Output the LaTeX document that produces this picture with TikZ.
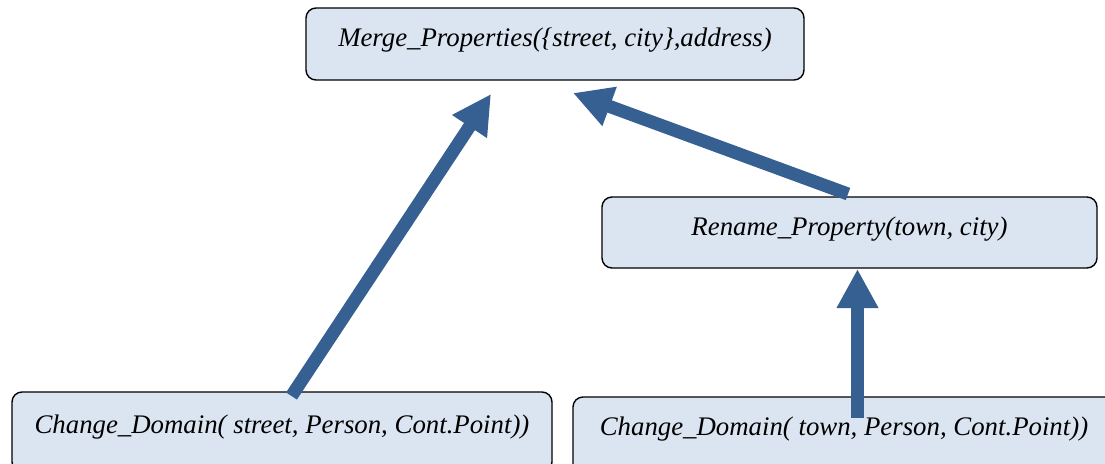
\documentclass[tikz,border=0pt]{standalone}
\usepackage{fontspec}
\setmainfont{Liberation Serif}
\usetikzlibrary{arrows.meta}
\definecolor{boxfill}{HTML}{DBE5F1}
\definecolor{flow}{HTML}{366092}
\begin{document}
\begin{tikzpicture}[x=1pt,y=-1pt,
  opbox/.style={draw=black, line width=1.4pt, fill=boxfill, rounded corners=10pt,
    inner sep=0pt, font=\fontsize{26.8}{30}\selectfont\itshape},
  flowarrow/.style={draw=flow, line width=13pt,
    -{Triangle[length=39pt,width=39pt]}}]
  \useasboundingbox (0,0) rectangle (1105,463);
  \clip (0,0) rectangle (1105,463);

  % operation boxes
  \node[opbox, minimum width=498pt, minimum height=72pt, text height=21pt, text depth=16pt]
    (merge) at (555,44) {Merge\_Properties(\{street, city\},address)};
  \node[opbox, minimum width=495pt, minimum height=71pt, text height=22pt, text depth=17pt]
    (rename) at (849.5,232.5) {Rename\_Property(town, city)};
  \node[opbox, minimum width=540pt, minimum height=80pt, text height=20pt, text depth=18pt]
    (cdstreet) at (282,432) {Change\_Domain( street, Person, Cont.Point))};
  \node[opbox, minimum width=542pt, minimum height=80pt, text height=18pt, text depth=22pt]
    (cdtown) at (844,437) {Change\_Domain( town, Person, Cont.Point))};

  % arrow end points
  \coordinate (s1) at (291.5,396);
  \coordinate (e1) at (491,94);
  \coordinate (s2) at (848,194);
  \coordinate (e2) at (573,93);
  \coordinate (s3) at (857.5,418);
  \coordinate (e3) at (857.5,269);

  % derivation arrows
  \draw[flowarrow] (s1) -- (e1);
  \draw[flowarrow] (s2) -- (e2);
  \draw[flowarrow] (s3) -- (e3);
\end{tikzpicture}
\end{document}
